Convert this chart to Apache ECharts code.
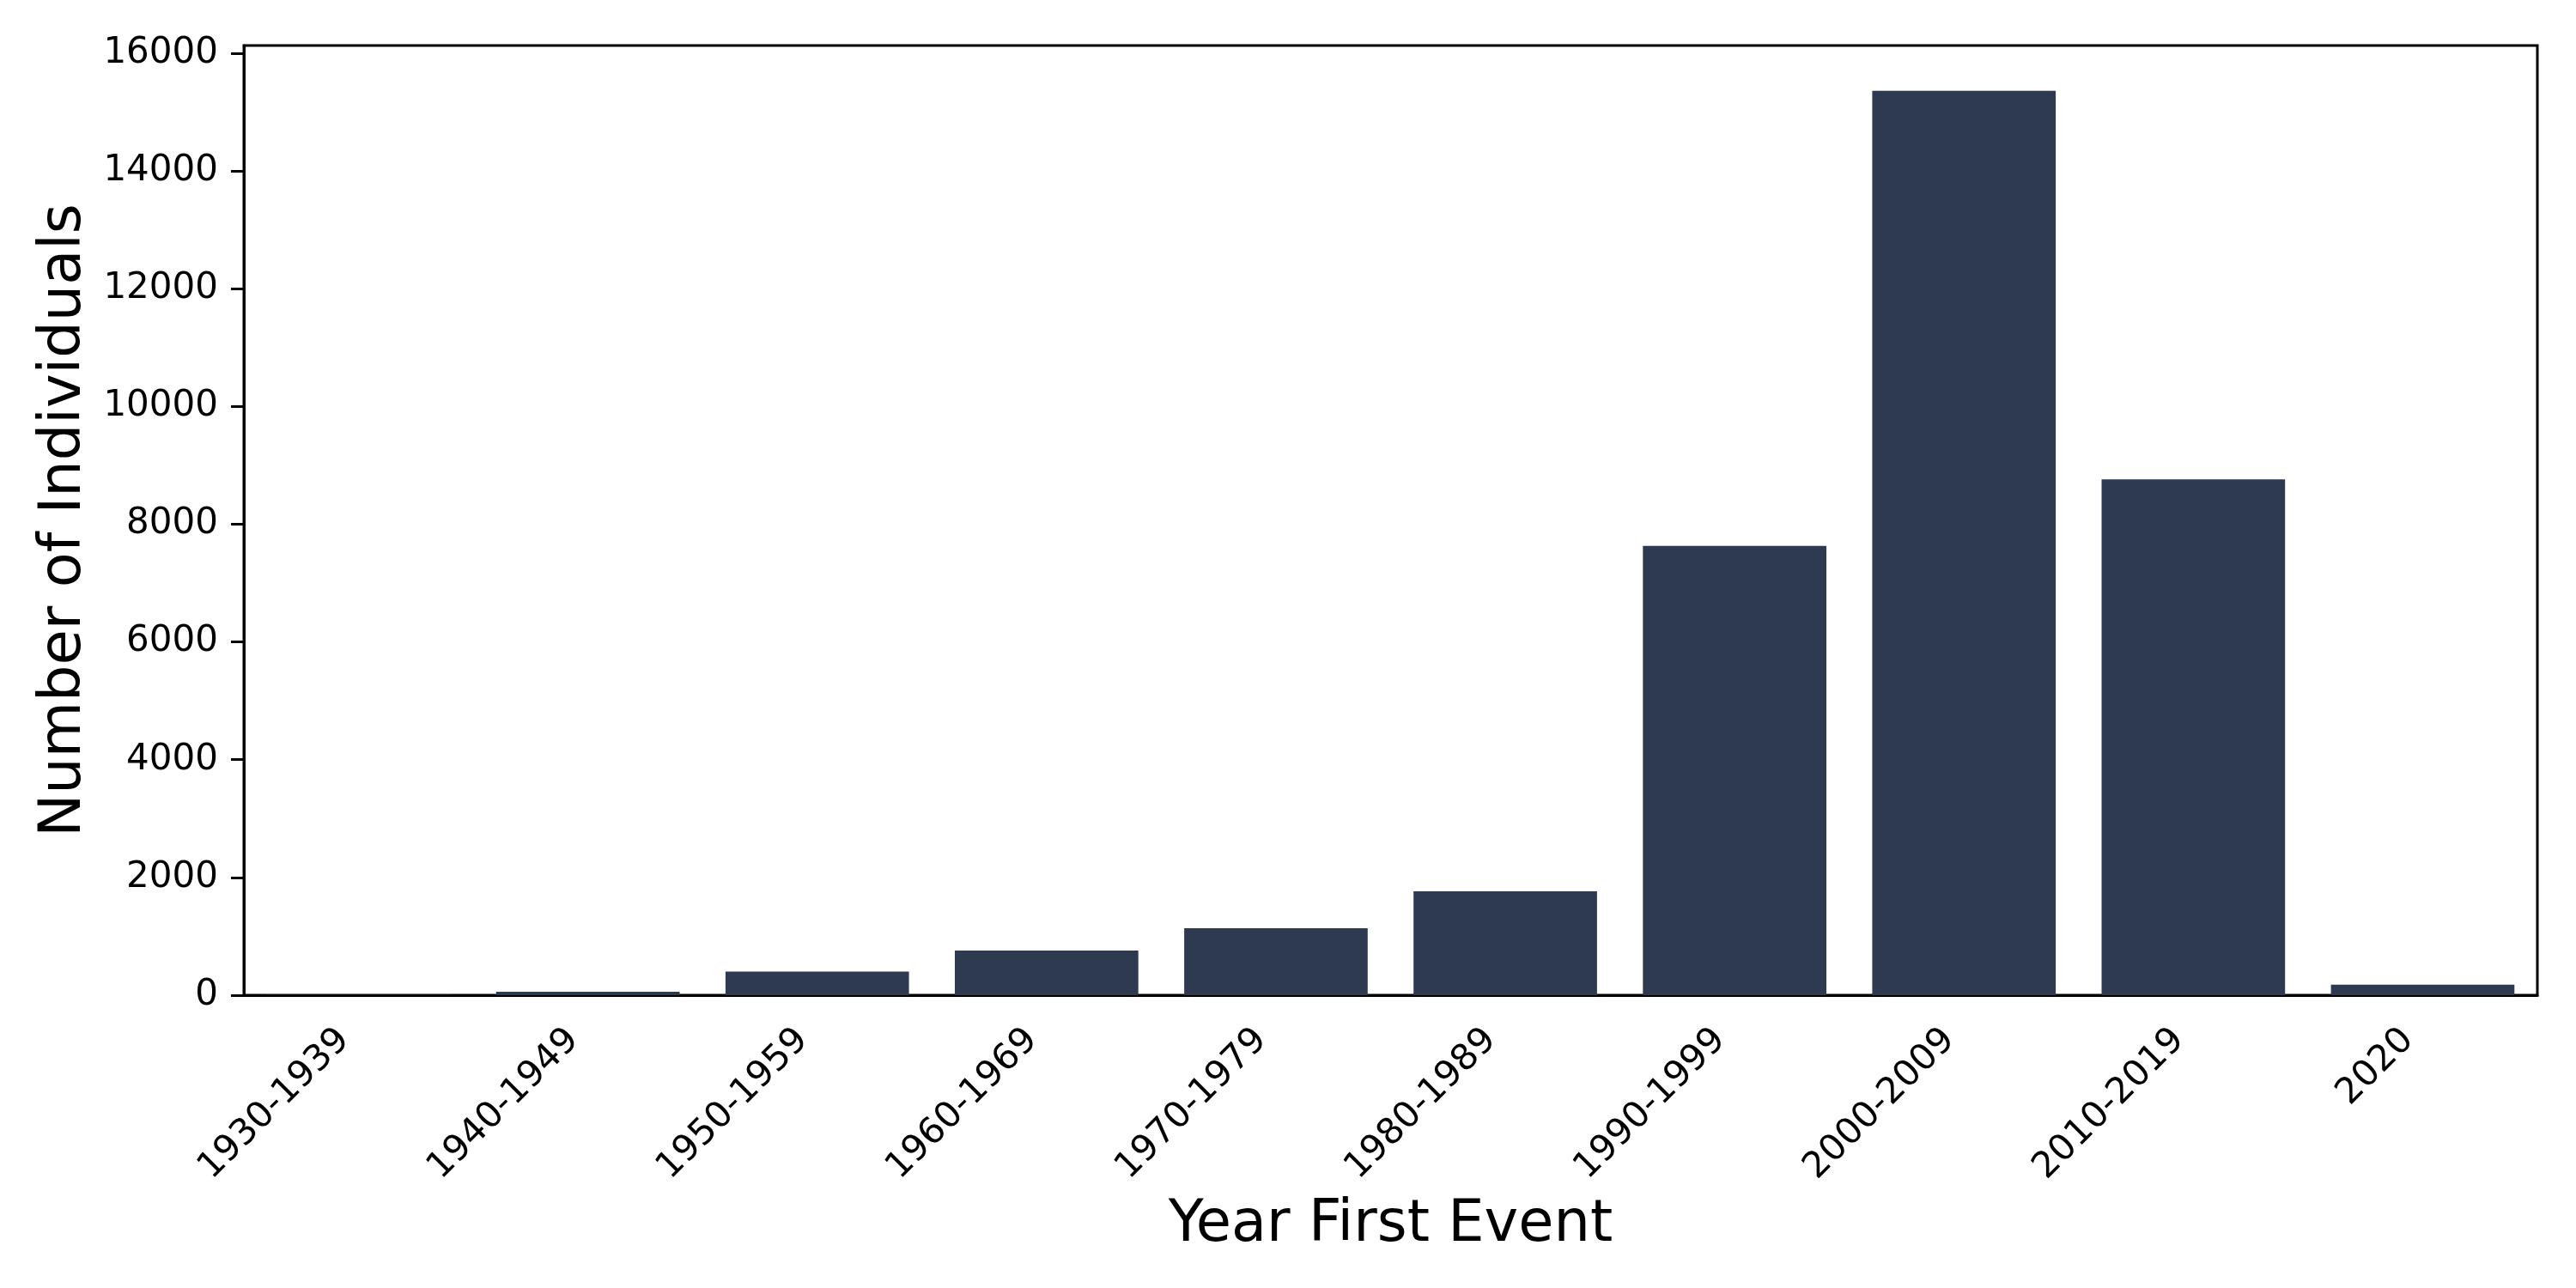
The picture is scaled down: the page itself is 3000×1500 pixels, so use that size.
<!DOCTYPE html>
<html lang="en">
<head>
    <meta charset="UTF-8">
    <title>Year First Event</title>
    <script src="https://cdn.jsdelivr.net/npm/echarts@6/dist/echarts.min.js"></script>
    <style>
        html, body { margin: 0; padding: 0; background: #fff; }
        #main { width: 3000px; height: 1500px; }
    </style>
</head>
<body>
    <div id="main"></div>
<script type="text/javascript">
    // data
    var decades = ['1930-1939', '1940-1949', '1950-1959', '1960-1969', '1970-1979',
                   '1980-1989', '1990-1999', '2000-2009', '2010-2019', '2020'];
    var individuals = [5, 60, 400, 758, 1137, 1764, 7630, 15360, 8760, 180];
    var yTicks = [0, 2000, 4000, 6000, 8000, 10000, 12000, 14000, 16000];

    var font = 'DejaVu Sans';
    var myChart = echarts.init(document.getElementById('main'));

    var option = {
        backgroundColor: '#ffffff',
        animation: false,
        grid: {
            left: 284, right: 45, top: 53, bottom: 341,
            show: true, borderColor: '#000', borderWidth: 3
        },
        xAxis: {
            type: 'category',
            data: decades,
            name: 'Year First Event',
            nameLocation: 'middle',
            nameGap: 235,
            nameTextStyle: { fontFamily: font, fontSize: 67, color: '#000' },
            axisLine: { lineStyle: { color: '#000', width: 3 } },
            axisTick: { alignWithLabel: true, length: 15, lineStyle: { color: '#000', width: 3 } },
            axisLabel: {
                interval: 0, rotate: 45, margin: 29,
                padding: [0, 24, 0, 0],
                fontFamily: font, fontSize: 42, color: '#000'
            },
            splitLine: { show: false }
        },
        yAxis: {
            type: 'value',
            min: 0,
            max: 16128,
            name: 'Number of Individuals',
            nameLocation: 'middle',
            nameGap: 168,
            nameTextStyle: { fontFamily: font, fontSize: 67, color: '#000' },
            axisLine: { show: true, lineStyle: { color: '#000', width: 3 } },
            axisTick: { show: true, length: 15, customValues: yTicks, lineStyle: { color: '#000', width: 3 } },
            axisLabel: {
                margin: 30, customValues: yTicks,
                formatter: function (v) { return String(v); },
                fontFamily: font, fontSize: 42, color: '#000'
            },
            splitLine: { show: false }
        },
        series: [{
            type: 'bar',
            data: individuals,
            barWidth: '80%',
            itemStyle: { color: '#2e3a50' }
        }]
    };

    myChart.setOption(option);
</script>
</body>
</html>
